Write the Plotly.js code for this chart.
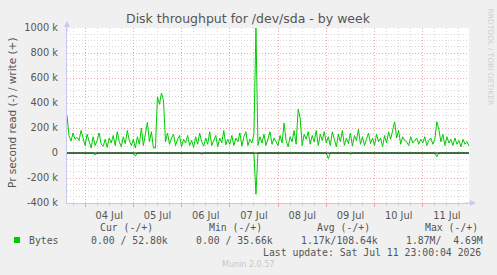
<!DOCTYPE html>
<html><head><meta charset="utf-8">
<script src="https://cdn.plot.ly/plotly-3.0.1.min.js"></script>
<style>html,body{margin:0;padding:0;background:#F0F0F0;}#chart{width:497px;height:275px;}</style>
</head><body><div id="chart"></div>
<script>
// Hourly samples starting 2026-07-03 15:00, values in k (bytes/s)
var startTime = '2026-07-03T15:00:00Z';
var writeK = [
  300,140,95,160,110,125,100,180,120,
  60,150,90,40,130,60,100,160,70,55,110,45,120,80,140,60,170,90,50,130,75,180,100,60,
  110,40,130,70,200,60,150,245,90,170,40,40,
  450,390,480,420,90,
  160,70,120,150,60,110,140,
  50,110,80,140,60,100,45,130,70,160,90,55,120,70,170,60,100,140,50,120,80,180,65,110,
  70,140,60,120,90,160,55,130,170,60,110,80,150,1000,60,130,80,150,60,110,170,70,120,90,
  60,140,80,240,100,50,130,90,180,70,350,280,60,150,110,170,70,140,90,180,60,150,100,170,
  80,130,60,170,100,50,150,90,180,60,120,75,160,55,140,100,190,70,130,60,110,160,75,120,
  60,150,90,120,50,140,80,170,110,190,250,120,180,70,130,100,90,60,130,80,100,120,70,110,
  80,130,60,100,120,70,110,250,190,90,150,60,130,80,110,60,120,70,100,50,110,70,90,55
];
var readK = [
  0,0,0,0,0,0,0,0,0,
  0,0,0,0,0,15,0,0,0,0,0,0,0,0,0,0,0,0,0,0,0,0,0,0,
  0,25,0,0,0,0,0,0,0,0,0,0,
  0,0,0,0,0,
  0,0,0,0,0,0,0,
  0,0,0,0,0,0,0,0,0,0,10,0,0,0,0,0,0,0,0,0,0,0,0,0,
  0,0,0,0,0,0,0,0,0,0,0,0,0,330,0,0,0,0,0,0,0,0,0,0,
  0,0,0,0,0,0,0,0,0,0,5,0,0,0,0,0,0,0,0,0,0,0,0,0,
  0,45,0,0,0,0,0,0,0,0,0,0,10,0,0,0,0,0,0,0,0,0,0,0,
  0,0,0,0,0,0,0,0,0,0,0,0,0,0,0,0,0,0,0,0,0,0,0,0,
  0,0,0,0,0,0,0,30,0,0,0,0,0,0,0,0,0,0,0,0,0,0,0,0
];
var yTickVals = [-400000,-200000,0,200000,400000,600000,800000,1000000];
var yTickText = ['-400 k','-200 k','0','200 k','400 k','600 k','800 k','1000 k'];
var statHeaders = ['Cur (-/+)','Min (-/+)','Avg (-/+)','Max (-/+)'];
var statValues = ['0.00 / 52.80k','0.00 / 35.66k','1.17k/108.64k','1.87M/  4.69M'];
var seriesName = 'Bytes';
var lastUpdate = 'Last update: Sat Jul 11 23:00:04 2026';
var yTitle = 'Pr second read (-) / write (+)';

var t0 = Date.parse(startTime);
var times = writeK.map(function(_, i){
  return new Date(t0 + i*3600000).toISOString().slice(0,16).replace('T',' ');
});

var L = 67, R = 469, T = 28, B = 203;
function px(x){ return (x - L)/(R - L); }
function py(y){ return (B - y)/(B - T); }

var green = '#00CC00';
var traces = [
  {x: times, y: writeK.map(function(v){return v*1000;}), type:'scatter', mode:'lines',
   line:{color:green, width:1}, hoverinfo:'skip', showlegend:false},
  {x: times, y: readK.map(function(v){return -v*1000;}), type:'scatter', mode:'lines',
   line:{color:green, width:1}, hoverinfo:'skip', showlegend:false}
];

var mono = 'DejaVu Sans Mono, monospace';
var ann = [];
var headX = [98, 207, 315, 423];
var valX = [89, 194, 299, 404];
statHeaders.forEach(function(h, k){
  ann.push({text:h, xref:'paper', yref:'paper', x:px(headX[k]), y:py(227), xanchor:'left', yanchor:'middle', showarrow:false, font:{family:mono, size:9.8, color:'#555'}});
});
statValues.forEach(function(v, k){
  ann.push({text:v.replace(/ /g,'&nbsp;'), xref:'paper', yref:'paper', x:px(valX[k]), y:py(240), xanchor:'left', yanchor:'middle', showarrow:false, font:{family:mono, size:9.8, color:'#555'}});
});
ann.push({text:seriesName, xref:'paper', yref:'paper', x:px(27), y:py(240), xanchor:'left', yanchor:'middle', showarrow:false, font:{family:mono, size:9.8, color:'#555'}});
ann.push({text:lastUpdate, xref:'paper', yref:'paper', x:px(483), y:py(252), xanchor:'right', yanchor:'middle', showarrow:false, font:{family:mono, size:9.8, color:'#555'}});
ann.push({text:'Munin 2.0.57', xref:'paper', yref:'paper', x:px(248), y:py(264), xanchor:'center', yanchor:'middle', showarrow:false, font:{family:'DejaVu Sans', size:8, color:'#c8c8c8'}});
ann.push({text:'RRDTOOL / TOBI OETIKER', xref:'paper', yref:'paper', x:px(490), y:py(6), xanchor:'center', yanchor:'top', textangle:90, showarrow:false, font:{family:'DejaVu Sans', size:7.5, color:'#cfcfcf'}});
ann.push({text:yTitle, xref:'paper', yref:'paper', x:px(12), y:py(113), xanchor:'center', yanchor:'middle', textangle:-90, showarrow:false, font:{family:'DejaVu Sans', size:10.5, color:'#555'}});
// axis arrows
ann.push({text:'', xref:'paper', yref:'paper', x:0, y:py(21), ax:0, ay:12, showarrow:true, arrowhead:2, arrowsize:1.2, arrowwidth:1, arrowcolor:'#c8c8f0'});
ann.push({text:'', xref:'paper', yref:'paper', x:px(476), y:0, ax:-12, ay:0, showarrow:true, arrowhead:2, arrowsize:1.2, arrowwidth:1, arrowcolor:'#c8c8f0'});

var layout = {
  width:497, height:275,
  margin:{l:L, r:497-R, t:T, b:275-B},
  paper_bgcolor:'#F0F0F0', plot_bgcolor:'#FFFFFF',
  font:{family:'DejaVu Sans', color:'#555'},
  title:{text:'Disk throughput for /dev/sda - by week', xref:'container', x:248/497, xanchor:'center', yref:'container', y:1-19/275, yanchor:'middle', font:{family:'DejaVu Sans', size:12.5, color:'#555'}},
  xaxis:{type:'date', range:['2026-07-03 15:00','2026-07-11 23:00'],
    tick0:'2026-07-04', dtick:86400000, tickformat:'%d %b', ticklabelmode:'period',
    ticks:'outside', ticklen:3, tickcolor:'#f0a0a0',
    showgrid:true, gridcolor:'#f0a8a8', griddash:'1px,2px', gridwidth:1,
    minor:{dtick:21600000, showgrid:true, gridcolor:'#d8d8d8', griddash:'1px,2px', gridwidth:1, ticks:'outside', ticklen:2, tickcolor:'#d0d0d0'},
    showline:true, linecolor:'#c8c8f0', linewidth:1, zeroline:false,
    tickfont:{family:'DejaVu Sans', size:9.8, color:'#555'}, fixedrange:true},
  yaxis:{range:[-400000,1000000], tickvals:yTickVals, ticktext:yTickText,
    showgrid:true, gridcolor:'#f0a8a8', griddash:'1px,2px', gridwidth:1,
    minor:{dtick:50000, tick0:0, showgrid:true, gridcolor:'#d8d8d8', griddash:'1px,2px', gridwidth:1},
    zeroline:false,
    showline:true, linecolor:'#c8c8f0', linewidth:1,
    ticks:'', ticklabelstandoff:6,
    tickfont:{family:'DejaVu Sans', size:9.8, color:'#555'},
    fixedrange:true},
  shapes:[
    {type:'line', xref:'paper', yref:'y', x0:0, x1:1, y0:0, y1:0, layer:'above', line:{color:'#000000', width:1.2}},
    {type:'rect', xref:'paper', yref:'paper', x0:px(14), x1:px(20), y0:py(243), y1:py(237), fillcolor:green, line:{width:0}}
  ],
  annotations: ann
};
Plotly.newPlot('chart', traces, layout, {displayModeBar:false, staticPlot:true});
</script></body></html>
